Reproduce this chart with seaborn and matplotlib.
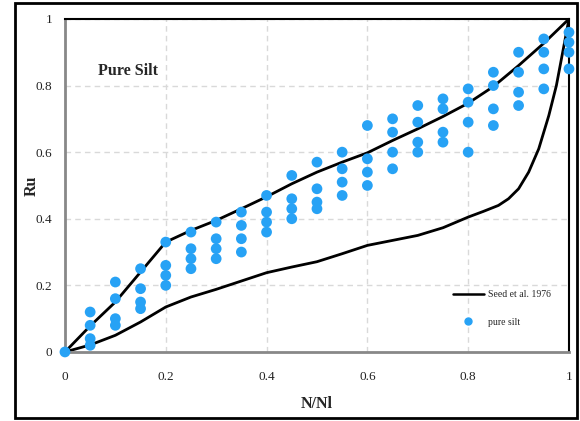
import numpy as np
import pandas as pd
import seaborn as sns
import matplotlib.pyplot as plt
from matplotlib.lines import Line2D
from matplotlib.patches import Rectangle

# Seed et al. 1976 bounds
upper_x = [0, 0.05, 0.1, 0.15, 0.2, 0.25, 0.3, 0.35, 0.4, 0.45, 0.5, 0.55,
           0.6, 0.65, 0.7, 0.75, 0.8, 0.85, 0.9, 0.95, 1.0]
upper_y = [0, 0.078, 0.15, 0.24, 0.33, 0.365, 0.395, 0.43, 0.466, 0.505, 0.54,
           0.57, 0.598, 0.635, 0.67, 0.707, 0.747, 0.797, 0.86, 0.927, 1.0]

lower_x = [0, 0.05, 0.1, 0.15, 0.2, 0.25, 0.3, 0.35, 0.4, 0.45, 0.5, 0.55,
           0.6, 0.65, 0.7, 0.75, 0.8, 0.83, 0.86, 0.88, 0.9, 0.92, 0.94, 0.96,
           0.975, 0.99, 1.0]
lower_y = [0, 0.021, 0.05, 0.09, 0.135, 0.165, 0.188, 0.213, 0.238, 0.255, 0.271,
           0.295, 0.32, 0.335, 0.35, 0.373, 0.405, 0.422, 0.44, 0.46, 0.49, 0.54,
           0.61, 0.71, 0.80, 0.92, 1.0]

# pure silt test results: N/Nl and Ru
n_ratio = [0, 0.05, 0.1, 0.15, 0.2, 0.25, 0.3, 0.35, 0.4, 0.45, 0.5,
           0.55, 0.6, 0.65, 0.7, 0.75, 0.8, 0.85, 0.9, 0.95, 1.0]
ru_vals = [
    [0],
    [0.12, 0.08, 0.04, 0.02],
    [0.21, 0.16, 0.10, 0.08],
    [0.25, 0.19, 0.15, 0.13],
    [0.33, 0.26, 0.23, 0.20],
    [0.36, 0.31, 0.28, 0.25],
    [0.39, 0.34, 0.31, 0.28],
    [0.42, 0.38, 0.34, 0.30],
    [0.47, 0.42, 0.39, 0.36],
    [0.53, 0.46, 0.43, 0.40],
    [0.57, 0.49, 0.45, 0.43],
    [0.60, 0.55, 0.51, 0.47],
    [0.68, 0.58, 0.54, 0.50],
    [0.70, 0.66, 0.60, 0.55],
    [0.74, 0.69, 0.63, 0.60],
    [0.76, 0.73, 0.66, 0.63],
    [0.79, 0.75, 0.69, 0.60],
    [0.84, 0.80, 0.73, 0.68],
    [0.90, 0.84, 0.78, 0.74],
    [0.94, 0.90, 0.85, 0.79],
    [0.96, 0.93, 0.90, 0.85],
]

silt = pd.DataFrame([(x, r) for x, rs in zip(n_ratio, ru_vals) for r in rs],
                    columns=["N/Nl", "Ru"])

sns.set_style("white")
plt.rcParams['font.family'] = ['Liberation Serif', 'DejaVu Serif']

fig = plt.figure(figsize=(5.8, 4.21), dpi=100)
ax = fig.add_axes([0.112, 0.164, 0.869, 0.791])

blue = "#27a2f5"

sns.lineplot(x=upper_x, y=upper_y, color="black", linewidth=2, ax=ax, zorder=2)
sns.lineplot(x=lower_x, y=lower_y, color="black", linewidth=2, ax=ax, zorder=2)
sns.scatterplot(data=silt, x="N/Nl", y="Ru", color=blue, s=60,
                edgecolor="none", ax=ax, zorder=3, clip_on=False)

ax.set_xlim(0, 1)
ax.set_ylim(0, 1)
ax.set_xticks([0, 0.2, 0.4, 0.6, 0.8, 1])
ax.set_xticklabels(["0", "0.2", "0.4", "0.6", "0.8", "1"])
ax.set_yticks([0, 0.2, 0.4, 0.6, 0.8, 1])
ax.set_yticklabels(["0", "0.2", "0.4", "0.6", "0.8", "1"])
ax.tick_params(axis="x", length=0, labelsize=9.5, pad=14, colors="#222222")
ax.tick_params(axis="y", length=0, labelsize=9.5, pad=9, colors="#222222")
ax.grid(True, linestyle=(0, (4, 3)), color="#d9d9d9", linewidth=1)

ax.spines["left"].set_color("#888888")
ax.spines["bottom"].set_color("#888888")
ax.spines["left"].set_linewidth(2)
ax.spines["bottom"].set_linewidth(2)
ax.spines["top"].set_color("black")
ax.spines["right"].set_color("black")
ax.spines["top"].set_linewidth(1.5)
ax.spines["right"].set_linewidth(1.5)

ax.set_xlabel("N/Nl", fontsize=11.5, fontweight="bold", labelpad=9)
ax.set_ylabel("Ru", fontsize=11.5, fontweight="bold", labelpad=-2.5)

ax.text(0.065, 0.845, "Pure Silt", transform=ax.transAxes, fontsize=11.5,
        fontweight="bold", va="center")

handles = [Line2D([], [], color="black", linewidth=1.8),
           Line2D([], [], color=blue, marker="o", linestyle="none", markersize=5)]
ax.legend(handles, ["Seed et al. 1976", "pure silt"], loc="lower left",
          bbox_to_anchor=(0.752, 0.05), frameon=False, fontsize=7,
          handlelength=3.2, handletextpad=0.4, labelspacing=1.9)

fig.patches.append(Rectangle((0.025, 0.007), 0.969, 0.986, transform=fig.transFigure,
                             fill=False, edgecolor="black", linewidth=2))

fig.savefig("out.png", dpi=100)
